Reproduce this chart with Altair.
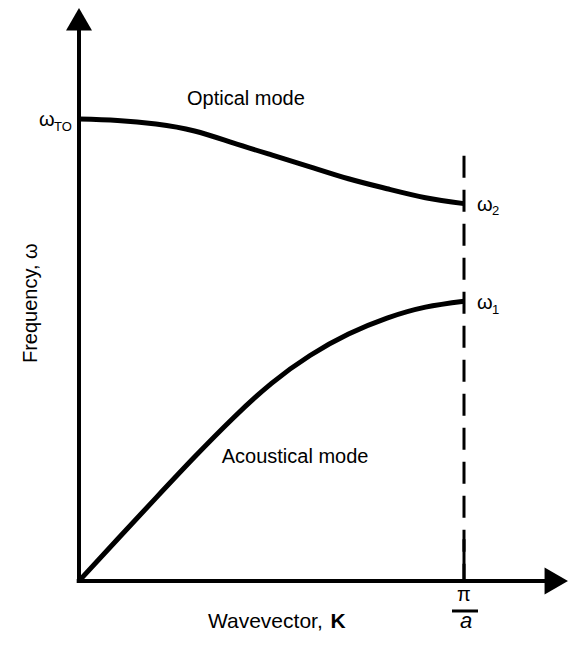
import altair as alt
import pandas as pd

# ---- data (normalised: K in units of pi/a, frequency in units of omega_TO) ----
K = [0.0, 0.1, 0.2, 0.3, 0.4, 0.5, 0.6, 0.7, 0.8, 0.9, 1.0]
optical = [1.0, 0.9968, 0.9892, 0.9741, 0.9483, 0.9224, 0.8966, 0.8707, 0.8491, 0.8297, 0.8168]
acoustic = [0.0, 0.0905, 0.1800, 0.2683, 0.3524, 0.4278, 0.4881, 0.5345, 0.5690, 0.5927, 0.6056]

# ---- layout ----
W, H = 560, 626
X0, PXK = 71, 385      # plot px of K=0, px per unit K
Y0, PXW = 573, 462     # plot px of w=0 (from top), px per unit w
xdom = [-X0 / PXK, (W - X0) / PXK]
ydom = [-(H - Y0) / PXW, Y0 / PXW]
xs = alt.Scale(domain=xdom, nice=False, zero=False)
ys = alt.Scale(domain=ydom, nice=False, zero=False)
FONT = "Liberation Sans"


def X(f):
    return alt.X(f, type="quantitative", scale=xs, axis=None)


def Y(f):
    return alt.Y(f, type="quantitative", scale=ys, axis=None)


curves = pd.DataFrame({
    "K": K + K,
    "w": optical + acoustic,
    "mode": ["Optical"] * len(K) + ["Acoustical"] * len(K),
})
lines = alt.Chart(curves).mark_line(
    color="black", strokeWidth=5, interpolate="natural"
).encode(x=X("K"), y=Y("w"), detail="mode:N")

# axes drawn as segments
axes_df = pd.DataFrame({
    "x": [-0.006, 0.0], "x2": [1.212, 0.0],
    "y": [0.0, -0.0045], "y2": [0.0, 1.196],
})
axes = alt.Chart(axes_df).mark_rule(color="black", strokeWidth=4).encode(
    x=X("x"), x2="x2", y=Y("y"), y2="y2"
)

up_arrow = alt.Chart(pd.DataFrame({"x": [0.0], "y": [1.2159]})).mark_point(
    shape="triangle-up", filled=True, size=676, color="black", opacity=1, strokeWidth=0
).encode(x=X("x"), y=Y("y"))
right_arrow = alt.Chart(pd.DataFrame({"x": [1.2397], "y": [0.0]})).mark_point(
    shape="triangle-right", filled=True, size=729, color="black", opacity=1, strokeWidth=0
).encode(x=X("x"), y=Y("y"))

# zone boundary at K = pi/a
zb_dash = alt.Chart(pd.DataFrame({"x": [1.0], "y": [0.9203], "y2": [0.0]})).mark_rule(
    color="black", strokeWidth=3, strokeDash=[22, 12]
).encode(x=X("x"), y=Y("y"), y2="y2")
zb_tick = alt.Chart(pd.DataFrame({"x": [1.0], "y": [0.0905], "y2": [0.0]})).mark_rule(
    color="black", strokeWidth=3
).encode(x=X("x"), y=Y("y"), y2="y2")
frac_bar = alt.Chart(pd.DataFrame({"x": [0.9688], "x2": [1.0364], "y": [-0.0649]})).mark_rule(
    color="black", strokeWidth=3
).encode(x=X("x"), x2="x2", y=Y("y"))

# text labels
lab = pd.DataFrame({
    "x": [0.2805, 0.3706, 0.335, -0.1039, -0.0649, 1.0338, 1.0727, 1.0338, 1.0727],
    "y": [1.0295, 0.255, -0.1017, 0.9849, 0.9741, 0.8017, 0.7931, 0.5884, 0.5776],
    "t": ["Optical mode", "Acoustical mode", "Wavevector, ", "ω", "TO", "ω", "2", "ω", "1"],
    "fs": [20, 20, 21, 20, 13, 20, 13, 20, 13],
})
labels = alt.Chart(lab).mark_text(
    align="left", baseline="alphabetic", font=FONT, color="black"
).encode(x=X("x"), y=Y("y"), text="t:N", size=alt.Size("fs:Q", scale=None, legend=None))

bold_k = alt.Chart(pd.DataFrame({"x": [0.6532], "y": [-0.1017], "t": ["K"]})).mark_text(
    align="left", baseline="alphabetic", font=FONT, fontWeight="bold", fontSize=21, color="black"
).encode(x=X("x"), y=Y("y"), text="t:N")

ylab = alt.Chart(pd.DataFrame({"x": [-0.1091], "y": [0.6013], "t": ["Frequency, ω"]})).mark_text(
    align="center", baseline="alphabetic", font=FONT, fontSize=20, angle=270, color="black"
).encode(x=X("x"), y=Y("y"), text="t:N")

pi_lab = alt.Chart(pd.DataFrame({"x": [1.0], "y": [-0.0433], "t": ["π"]})).mark_text(
    align="center", baseline="alphabetic", font=FONT, fontSize=20, color="black"
).encode(x=X("x"), y=Y("y"), text="t:N")
a_lab = alt.Chart(pd.DataFrame({"x": [1.0052], "y": [-0.1017], "t": ["a"]})).mark_text(
    align="center", baseline="alphabetic", font=FONT, fontSize=22, fontStyle="italic", color="black"
).encode(x=X("x"), y=Y("y"), text="t:N")

chart = alt.layer(
    axes, up_arrow, right_arrow, zb_dash, zb_tick, frac_bar, lines,
    labels, bold_k, ylab, pi_lab, a_lab
).properties(
    width=W, height=H, padding=0, autosize=alt.AutoSizeParams(type="none"),
    background="white"
).configure_view(stroke=None)

chart.save("out.html", embed_options={"renderer": "svg", "actions": False})
